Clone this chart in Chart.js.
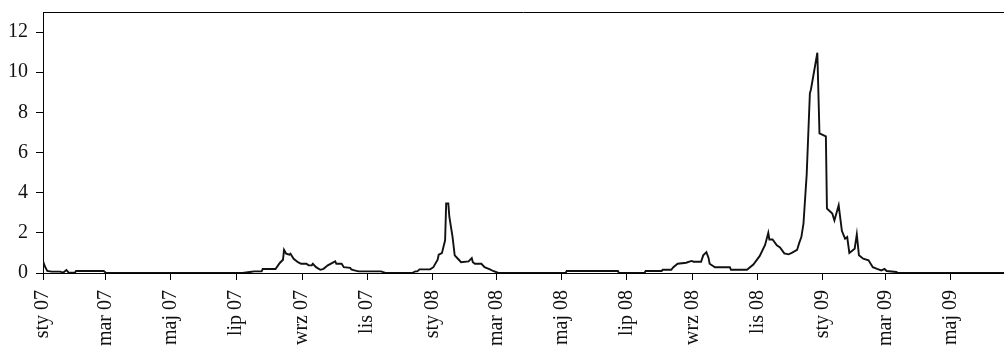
<!DOCTYPE html>
<html lang="pl">
<head>
<meta charset="utf-8">
<title>Zachorowania 2007–2009</title>
<script src="https://cdn.jsdelivr.net/npm/chart.js@4.4.1/dist/chart.umd.min.js"></script>
<style>
  html, body { margin: 0; padding: 0; background: #fff; }
  #wrap { position: relative; width: 1004px; height: 350px; }
</style>
</head>
<body>
<div id="wrap"><canvas id="chart"></canvas></div>
<script>
// Days counted from 1 Jan 2007, and the value recorded on each of those days.
const dayOffsets = [
  0, 2, 4, 8, 16, 19, 22, 24, 30, 31, 57, 59,
  187, 194, 198, 205, 206, 218, 222, 225, 226, 228, 231, 232, 235, 239, 242,
  247, 249, 252, 253, 256, 260, 263, 267, 274, 275, 280, 282, 288, 289, 292,
  296, 317, 321,
  346, 349, 351, 353, 363, 366, 370, 371, 374, 377, 378, 380, 381, 384, 386,
  389, 392, 399, 402, 403, 405, 411, 414, 419, 422, 427,
  490, 491, 539, 540,
  564, 565, 580, 581, 589, 591, 595, 603, 608, 610, 617, 619, 622, 624, 625,
  630, 644, 645, 660, 666, 672, 677, 680, 681, 684, 688, 691, 695, 699, 702,
  707, 709, 711, 713, 716, 719, 720, 726, 728, 734, 735, 740, 742, 746, 749,
  752, 754, 756, 761, 763, 765, 769, 774, 778, 782, 786, 789, 791, 800, 802,
  901
];
const values = [
  0.6, 0.3, 0.1, 0.07, 0.07, 0.02, 0.15, 0.02, 0.02, 0.1, 0.1, 0,
  0, 0.05, 0.08, 0.08, 0.2, 0.2, 0.5, 0.66, 1.15, 0.96, 0.91, 0.96, 0.71, 0.54, 0.46,
  0.46, 0.38, 0.38, 0.46, 0.29, 0.16, 0.21, 0.38, 0.58, 0.46, 0.46, 0.29, 0.26, 0.18, 0.13,
  0.08, 0.08, 0,
  0, 0.08, 0.08, 0.18, 0.18, 0.29, 0.66, 0.91, 0.99, 1.63, 3.46, 3.46, 2.79, 1.79, 0.88,
  0.71, 0.54, 0.58, 0.74, 0.54, 0.46, 0.46, 0.29, 0.18, 0.1, 0,
  0, 0.1, 0.1, 0,
  0, 0.1, 0.1, 0.16, 0.16, 0.29, 0.46, 0.51, 0.6, 0.56, 0.56, 0.88, 1.04, 0.75, 0.46,
  0.29, 0.29, 0.16, 0.16, 0.42, 0.85, 1.4, 2.0, 1.67, 1.67, 1.38, 1.27, 0.98, 0.93, 1.0,
  1.15, 1.5, 1.79, 2.46, 4.9, 8.95, 9.14, 10.97, 6.95, 6.8, 3.21, 2.96, 2.62, 3.37, 2.1,
  1.71, 1.79, 1.0, 1.21, 1.92, 0.88, 0.71, 0.63, 0.29, 0.2, 0.13, 0.2, 0.1, 0.05, 0,
  0
];

// Axis: first day of every second month, with its Polish label.
const monthTickDays = [0, 59, 120, 181, 243, 304, 365, 425, 486, 547, 609, 670, 731, 790, 851];
const monthTickLabels = [
  'sty 07', 'mar 07', 'maj 07', 'lip 07', 'wrz 07', 'lis 07',
  'sty 08', 'mar 08', 'maj 08', 'lip 08', 'wrz 08', 'lis 08',
  'sty 09', 'mar 09', 'maj 09'
];
const xMax = 901;
const yMax = 13;
const yStep = 2;

const points = dayOffsets.map((d, i) => ({ x: d, y: values[i] }));

const serif = "'Liberation Serif', 'Times New Roman', serif";

// Thin frame line along the top of the plot area.
const topFrame = {
  id: 'topFrame',
  afterDraw(chart) {
    const { ctx, chartArea } = chart;
    ctx.save();
    ctx.strokeStyle = '#000';
    ctx.lineWidth = 1;
    ctx.beginPath();
    ctx.moveTo(chartArea.left, Math.round(chartArea.top) + 0.5);
    ctx.lineTo(chartArea.right, Math.round(chartArea.top) + 0.5);
    ctx.stroke();
    ctx.restore();
  }
};

new Chart(document.getElementById('chart'), {
  type: 'line',
  data: {
    datasets: [{
      data: points,
      borderColor: '#111',
      borderWidth: 1.9,
      pointRadius: 0,
      tension: 0,
      fill: false
    }]
  },
  options: {
    responsive: true,
    maintainAspectRatio: false,
    animation: false,
    events: [],
    layout: { padding: { top: 12, left: 0, right: 0, bottom: 0 } },
    plugins: {
      legend: { display: false },
      tooltip: { enabled: false }
    },
    scales: {
      x: {
        type: 'linear',
        min: 0,
        max: xMax,
        afterBuildTicks(scale) {
          scale.ticks = monthTickDays.map(v => ({ value: v }));
        },
        afterFit(scale) {
          scale.height = 77;
          scale.paddingLeft = 0;
          scale.paddingRight = 0;
        },
        ticks: {
          autoSkip: false,
          minRotation: 90,
          maxRotation: 90,
          padding: 10,
          color: '#111',
          font: { family: serif, size: 20 },
          callback(value) {
            const i = monthTickDays.indexOf(value);
            return i >= 0 ? monthTickLabels[i] : '';
          }
        },
        grid: {
          display: true,
          drawOnChartArea: false,
          drawTicks: true,
          tickLength: 7,
          color: '#000',
          lineWidth: 1
        },
        border: { display: true, color: '#000', width: 1 }
      },
      y: {
        min: 0,
        max: yMax,
        afterFit(scale) {
          scale.width = 43;
          scale.paddingTop = 0;
          scale.paddingBottom = 0;
        },
        ticks: {
          stepSize: yStep,
          includeBounds: false,
          padding: 8,
          color: '#111',
          font: { family: serif, size: 20 }
        },
        grid: {
          display: true,
          drawOnChartArea: false,
          drawTicks: true,
          tickLength: 7,
          color: '#000',
          lineWidth: 1
        },
        border: { display: true, color: '#000', width: 1 }
      }
    }
  },
  plugins: [topFrame]
});
</script>
</body>
</html>
